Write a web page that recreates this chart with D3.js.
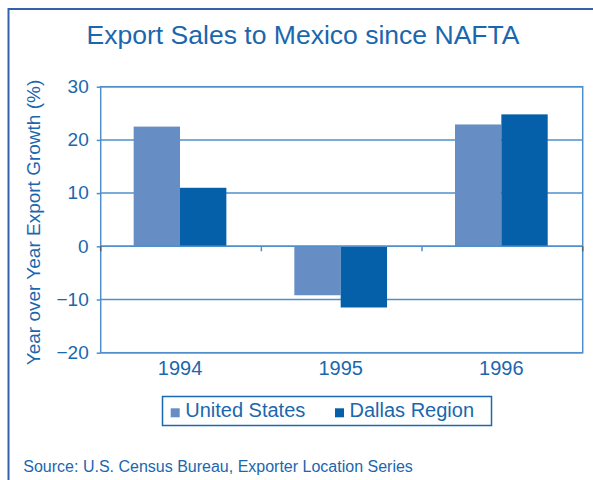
<!DOCTYPE html>
<html>
<head>
<meta charset="utf-8">
<script src="https://cdn.jsdelivr.net/npm/d3@7"></script>
<style>
  html, body { margin: 0; padding: 0; background: #fff; }
  svg { display: block; font-family: "Liberation Sans", Arial, Helvetica, sans-serif; }
</style>
</head>
<body>
<svg id="chart" width="593" height="480"></svg>
<script>
// Year-over-year export growth to Mexico (%)
const years = ["1994", "1995", "1996"];
const seriesNames = ["United States", "Dallas Region"];
const unitedStates = [22.5, -9.2, 22.9];
const dallasRegion = [11.0, -11.5, 24.8];
const yTicks = [-20, -10, 0, 10, 20, 30];
const yTickLabels = ["\u221220", "\u221210", "0", "10", "20", "30"];

const seriesColors = ["#678dc5", "#0560a9"];
const textColor = "#1a67ae";
const gridColor = "#4f8fcb";

const svg = d3.select("#chart");

// outer panel border (open to the right and bottom)
svg.append("rect")
  .attr("x", 8.5).attr("y", 9)
  .attr("width", 800).attr("height", 600)
  .attr("fill", "none")
  .attr("stroke", "#3461aa")
  .attr("stroke-width", 2);

svg.append("text")
  .attr("x", 86.5).attr("y", 44.3)
  .attr("fill", textColor)
  .attr("font-size", 26.5)
  .attr("textLength", 433)
  .attr("lengthAdjust", "spacingAndGlyphs")
  .text("Export Sales to Mexico since NAFTA");

const plot = { left: 100.7, right: 582.7, top: 86.7, bottom: 352.7 };

const y = d3.scaleLinear().domain([-20, 30]).range([plot.bottom, plot.top]);
const x0 = d3.scaleBand().domain(years).range([plot.left, plot.right]).padding(0);
const x1 = d3.scaleBand().domain(seriesNames)
  .range([0, x0.bandwidth()])
  .paddingInner(0).paddingOuter(0.733).align(0.485);

const rows = years.map((yr, i) => ({
  year: yr,
  values: [
    { name: seriesNames[0], value: unitedStates[i] },
    { name: seriesNames[1], value: dallasRegion[i] }
  ]
}));

// horizontal gridlines
svg.append("g")
  .selectAll("line")
  .data(yTicks)
  .join("line")
  .attr("x1", plot.left).attr("x2", plot.right)
  .attr("y1", d => y(d)).attr("y2", d => y(d))
  .attr("stroke", gridColor)
  .attr("stroke-width", 1.5);

// bars
const groups = svg.append("g")
  .selectAll("g")
  .data(rows)
  .join("g")
  .attr("transform", d => `translate(${x0(d.year)},0)`);

groups.selectAll("rect")
  .data(d => d.values)
  .join("rect")
  .attr("x", d => x1(d.name))
  .attr("width", x1.bandwidth())
  .attr("y", d => y(Math.max(0, d.value)))
  .attr("height", d => Math.abs(y(d.value) - y(0)))
  .attr("fill", (d, i) => seriesColors[i]);

// zero line drawn over the bars
svg.append("line")
  .attr("x1", plot.left).attr("x2", plot.right)
  .attr("y1", y(0)).attr("y2", y(0))
  .attr("stroke", gridColor)
  .attr("stroke-width", 1.5);

// plot frame
svg.append("rect")
  .attr("x", plot.left).attr("y", plot.top)
  .attr("width", plot.right - plot.left)
  .attr("height", plot.bottom - plot.top)
  .attr("fill", "none")
  .attr("stroke", gridColor)
  .attr("stroke-width", 1.5);

// y axis
const yAxis = d3.axisLeft(y)
  .tickValues(yTicks)
  .tickSize(4)
  .tickPadding(8)
  .tickFormat((d, i) => yTickLabels[i]);

const yAxisG = svg.append("g")
  .attr("transform", `translate(${plot.left},0)`)
  .call(yAxis);
yAxisG.select(".domain").remove();
yAxisG.selectAll(".tick line").attr("stroke", gridColor).attr("stroke-width", 1.5);
yAxisG.selectAll(".tick text")
  .attr("fill", textColor)
  .attr("font-size", 19)
  .attr("font-family", "Liberation Sans, Arial, sans-serif")
  .attr("dy", "0.3em");

// category boundary ticks on the zero line
const boundaries = [plot.left, ...years.slice(1).map(d => x0(d)), plot.right];
svg.append("g")
  .selectAll("line")
  .data(boundaries)
  .join("line")
  .attr("x1", d => d).attr("x2", d => d)
  .attr("y1", y(0)).attr("y2", y(0) + 5)
  .attr("stroke", (d, i) => (i === 0 || i === boundaries.length - 1) ? "#55606a" : gridColor)
  .attr("stroke-width", 1.5);

// year labels
svg.append("g")
  .selectAll("text")
  .data(years)
  .join("text")
  .attr("x", d => x0(d) + x0.bandwidth() / 2 - 1)
  .attr("y", 374.5)
  .attr("text-anchor", "middle")
  .attr("fill", textColor)
  .attr("font-size", 20)
  .text(d => d);

// y axis title
svg.append("text")
  .attr("transform", "translate(39.6,222.5) rotate(-90)")
  .attr("text-anchor", "middle")
  .attr("fill", textColor)
  .attr("font-size", 19)
  .text("Year over Year Export Growth (%)");

// legend
const legend = svg.append("g");
legend.append("rect")
  .attr("x", 162.5).attr("y", 396.5)
  .attr("width", 329).attr("height", 29)
  .attr("fill", "#fff")
  .attr("stroke", "#1a6ab2")
  .attr("stroke-width", 1.5);

const legendX = [170.7, 335];
const legendItems = legend.selectAll("g.item")
  .data(seriesNames)
  .join("g")
  .attr("class", "item")
  .attr("transform", (d, i) => `translate(${legendX[i]},0)`);

legendItems.append("rect")
  .attr("x", 0).attr("y", 408.3)
  .attr("width", 9).attr("height", 9)
  .attr("fill", (d, i) => seriesColors[i]);

legendItems.append("text")
  .attr("x", 14.5).attr("y", 417.3)
  .attr("fill", textColor)
  .attr("font-size", 20)
  .text(d => d);

// source note
svg.append("text")
  .attr("x", 23.3).attr("y", 472.3)
  .attr("fill", textColor)
  .attr("font-size", 16)
  .text("Source: U.S. Census Bureau, Exporter Location Series");
</script>
</body>
</html>
